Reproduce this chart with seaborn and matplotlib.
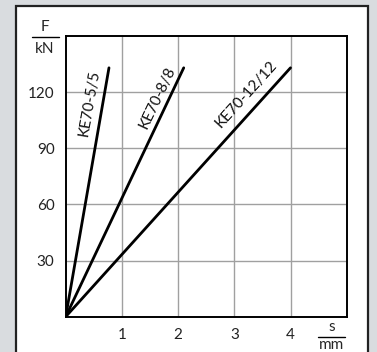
import math
import matplotlib
matplotlib.use("Agg")
import matplotlib.pyplot as plt
import seaborn as sns
import pandas as pd
from matplotlib.patches import Rectangle

# data: spring force vs travel
names = ["KE70-5/5", "KE70-8/8", "KE70-12/12"]
s_end = [0.77, 2.1, 4.0]
f_end = [133, 133, 133]
label_pos = [(0.42, 114), (1.64, 117), (3.21, 119)]

x_ticks = [1, 2, 3, 4]
y_ticks = [30, 60, 90, 120]

rows = []
for n, s, f in zip(names, s_end, f_end):
    rows.append({"name": n, "s": 0.0, "F": 0.0})
    rows.append({"name": n, "s": s, "F": f})
df = pd.DataFrame(rows)

sns.set_style("white")
plt.rcParams["font.family"] = ["Lato", "DejaVu Sans"]
FS = 11

fig = plt.figure(figsize=(3.77, 3.52), dpi=100)
fig.patch.set_facecolor("#d9dcdf")
panel = Rectangle((16 / 377, -0.05), (368 - 16) / 377, (352 - 6) / 352 + 0.05,
                  transform=fig.transFigure, facecolor="white",
                  edgecolor="#222222", linewidth=1.6, zorder=-5)
fig.patches.append(panel)

ax = fig.add_axes([65.7 / 377, (352 - 316.7) / 352, (346.7 - 65.7) / 377, (316.7 - 36) / 352])
ax.set_zorder(2)
ax.set_facecolor("white")

sns.lineplot(data=df, x="s", y="F", units="name", estimator=None,
             color="black", linewidth=2.0, ax=ax, legend=False)

ax.set_xlim(0, 5)
ax.set_ylim(0, 150)
ax.set_xticks(x_ticks)
ax.set_yticks(y_ticks)
ax.grid(True, color="#a0a0a0", linewidth=1.0)
ax.set_axisbelow(True)
for sp in ax.spines.values():
    sp.set_color("black")
    sp.set_linewidth(1.4)
ax.tick_params(length=0, labelsize=FS, colors="#222222", pad=8)
ax.set_xlabel("")
ax.set_ylabel("")

# rotated labels along the lines
bbox = ax.get_position()
w_px = bbox.width * 377
h_px = bbox.height * 352
for n, s, f, (lx, ly) in zip(names, s_end, f_end, label_pos):
    ang = math.degrees(math.atan2(f / 150 * h_px, s / 5 * w_px))
    ax.text(lx, ly, n, rotation=ang, rotation_mode="anchor",
            ha="center", va="center", fontsize=FS, color="#111111")

# unit fractions
fig.text(45 / 377, 1 - 27 / 352, "F", ha="center", va="center", fontsize=FS, zorder=3)
fig.text(45 / 377, 1 - 49 / 352, "kN", ha="center", va="center", fontsize=FS, zorder=3)
fig.add_artist(plt.Line2D([32 / 377, 59 / 377], [1 - 37 / 352] * 2, color="black", linewidth=1.0, zorder=3))
fig.text(332 / 377, 1 - 327 / 352, "s", ha="center", va="center", fontsize=FS, zorder=3)
fig.text(332 / 377, 1 - 345 / 352, "mm", ha="center", va="center", fontsize=FS, zorder=3)
fig.add_artist(plt.Line2D([318 / 377, 345 / 377], [1 - 337 / 352] * 2, color="black", linewidth=1.0, zorder=3))

fig.savefig("out.png", dpi=100)
